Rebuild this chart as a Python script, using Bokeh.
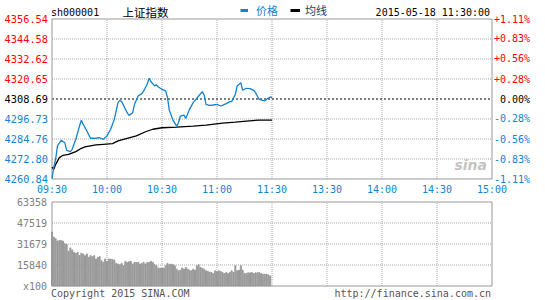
from bokeh.plotting import figure
from bokeh.models import Range1d, ColumnDataSource, Legend, LegendItem
from bokeh.core.properties import value
from bokeh.embed import file_html
from bokeh.resources import INLINE

code = "sh000001"
name = "上证指数"
stamp = "2015-05-18 11:30:00"
series_names = ["价格", "均线"]
prev_close = 4308.69
price_ticks = [4260.84, 4272.80, 4284.76, 4296.73, 4308.69, 4320.65, 4332.62, 4344.58, 4356.54]
pct_labels = ["-1.11%", "-0.83%", "-0.56%", "-0.28%", "0.00%", "+0.28%", "+0.56%", "+0.83%", "+1.11%"]
time_ticks = [0, 30, 60, 90, 120, 150, 180, 210, 240]
time_labels = ["09:30", "10:00", "10:30", "11:00", "11:30", "13:30", "14:00", "14:30", "15:00"]

# minutes after 09:30
price_min = [0, 1, 2, 3, 5, 7, 8, 10, 11, 13, 15, 16, 17, 19, 21, 23, 26, 28, 30, 32, 34, 36, 37, 38,
             41, 42, 44, 45, 47, 49, 50, 52, 53, 54, 56, 57, 58, 60, 62, 63, 64, 66, 68, 69, 70, 72,
             73, 75, 77, 78, 80, 82, 83, 84, 86, 88, 90, 92, 93, 95, 97, 98, 100, 101, 103, 104, 106,
             108, 110, 111, 112, 113, 115, 116, 117, 119, 120]
price_val = [4261.0, 4268.0, 4272.8, 4280.6, 4284.0, 4282.5, 4278.0, 4277.2, 4278.6, 4284.6, 4292.5,
             4296.0, 4293.6, 4289.6, 4285.2, 4285.2, 4285.5, 4284.6, 4286.6, 4290.6, 4296.6, 4306.5,
             4307.9, 4307.1, 4300.5, 4298.9, 4300.5, 4305.5, 4310.5, 4311.9, 4313.5, 4317.8, 4321.1,
             4319.0, 4316.5, 4317.1, 4315.9, 4314.5, 4313.5, 4309.5, 4301.9, 4296.0, 4292.5, 4294.5,
             4298.5, 4299.1, 4297.1, 4302.5, 4306.5, 4307.9, 4310.5, 4313.1, 4311.1, 4305.5, 4304.9,
             4305.1, 4305.5, 4304.5, 4304.9, 4305.9, 4307.1, 4307.1, 4311.5, 4316.5, 4318.4, 4313.9,
             4315.1, 4314.9, 4313.9, 4312.5, 4310.5, 4308.5, 4307.9, 4307.5, 4308.5, 4309.9, 4309.5]
avg_min = [0, 1, 2, 4, 6, 9, 13, 16, 18, 24, 28, 33, 36, 41, 46, 51, 55, 60, 68, 77, 84, 93, 100, 106, 113, 120]
avg_val = [4268.0, 4266.6, 4269.6, 4273.6, 4275.0, 4275.6, 4277.2, 4279.2, 4280.0, 4281.2, 4281.6,
           4282.0, 4283.6, 4285.2, 4286.6, 4289.1, 4290.6, 4291.5, 4291.9, 4292.5, 4293.1, 4294.3,
           4294.9, 4295.5, 4296.1, 4296.1]

volume = [40700, 36900, 35600, 33850, 34350, 34350, 33850, 31800, 31300,
          26200, 28750, 27230, 25450, 24680, 25450, 22900, 24680, 24170, 22900,
          24170, 21630, 22900, 22140, 22900, 20360, 21630, 22140, 19080, 17810,
          20360, 18580, 20360, 20360, 19850, 19590, 17050, 16540, 16030, 17050,
          15270, 18580, 17810, 18320, 18580, 16540, 17810, 17810, 17810, 16540,
          17050, 17810, 16540, 17810, 17810, 18580, 17810, 16030, 15270,
          13490, 13490, 13490, 13490, 15270, 17050, 16030, 16540, 16030, 15270,
          12720, 11450, 11960, 13490, 12720, 14000, 12720, 11960, 11450, 12720,
          11960, 15270, 16030, 14000, 13490, 12720, 11450, 10940, 10430, 10180,
          9410, 11450, 10940, 11450, 10940, 10180, 9410, 10180, 9410, 10180,
          11450, 10180, 15270, 11450, 11960, 15270, 11960, 9410, 9410, 9920,
          9920, 10180, 9410, 9920, 9920, 10180, 9410, 8910, 8910,
          8910, 8400, 7630]
vol_ticks = [0, 15840, 31679, 47519, 63358]
vol_labels = ["x100", "15840", "31679", "47519", "63358"]
copyright_text = "Copyright 2015 SINA.COM"
url_text = "http://finance.sina.com.cn"
watermark = "sina"

# ---------------- layout constants (canvas pixels) ----------------
W, H = 545, 300
PLOT_L, PLOT_R = 51.5, 491.5
MAIN_T, MAIN_B = 18.5, 178.5
VOL_T, VOL_B = 201.5, 285.5

BLUE = "#1282d2"
RED = "#ff0000"
GRID = "#a8a8a8"
FRAME = "#999999"
MONO = "DejaVu Sans Mono"
CJK = "Noto Sans CJK SC"
NAN = float("nan")

t0, t1 = time_ticks[0], time_ticks[-1]
p_lo, p_hi = price_ticks[0], price_ticks[-1]
v_hi = vol_ticks[-1]
xpp = (t1 - t0) / (PLOT_R - PLOT_L)
ypp = (p_hi - p_lo) / (MAIN_B - MAIN_T)
vpp = v_hi / (VOL_B - VOL_T)

p = figure(width=W, height=H,
           x_range=Range1d(t0 - PLOT_L * xpp, t1 + (W - PLOT_R) * xpp),
           y_range=Range1d(p_lo - (H - MAIN_B) * ypp, p_hi + MAIN_T * ypp),
           output_backend="svg", toolbar_location=None,
           x_axis_location=None, y_axis_location=None,
           min_border=0, min_border_left=0, min_border_right=0, min_border_top=0, min_border_bottom=0)
p.extra_y_ranges = {"vol": Range1d(-(H - VOL_B) * vpp, v_hi + VOL_T * vpp)}
p.outline_line_color = None
p.xgrid.visible = False
p.ygrid.visible = False
p.background_fill_color = "white"
p.border_fill_color = "white"

# ---- main panel grid ----
inner_t = time_ticks[1:-1]
inner_p = [t for t in price_ticks[1:-1] if t != prev_close]
p.segment(x0=inner_t, x1=inner_t, y0=[p_lo] * len(inner_t), y1=[p_hi] * len(inner_t),
          line_color=GRID, line_dash="1 1", line_width=1)
p.segment(x0=[t0] * len(inner_p), x1=[t1] * len(inner_p), y0=inner_p, y1=inner_p,
          line_color=GRID, line_dash="1 1", line_width=1)
p.segment(x0=[t0], x1=[t1], y0=[prev_close], y1=[prev_close],
          line_color="black", line_dash="2 2", line_width=1)
p.quad(left=[t0], right=[t1], bottom=[p_lo], top=[p_hi], fill_color=None, line_color=FRAME)

# ---- volume panel grid ----
inner_v = vol_ticks[1:-1]
p.segment(x0=inner_t, x1=inner_t, y0=[0] * len(inner_t), y1=[v_hi] * len(inner_t),
          line_color=GRID, line_dash="1 1", line_width=1, y_range_name="vol")
p.segment(x0=[t0] * len(inner_v), x1=[t1] * len(inner_v), y0=inner_v, y1=inner_v,
          line_color=GRID, line_dash="1 1", line_width=1, y_range_name="vol")

p.vbar(x=list(range(len(volume))), top=volume, bottom=0, width=0.55, color="#999999",
       y_range_name="vol")
p.quad(left=[t0], right=[t1], bottom=[0], top=[v_hi], fill_color=None, line_color=FRAME,
       y_range_name="vol")

# ---- watermark ----
p.text(x=[t1], y=[p_lo], text=[watermark], x_offset=-5, y_offset=-14, text_align="right",
       text_baseline="middle", text_font=value("DejaVu Sans"), text_font_style="bold italic",
       text_font_size="14px", text_color="#c4c4c4")

# ---- series ----
p.line(avg_min, avg_val, line_color="black", line_width=1.3)
p.line(price_min, price_val, line_color=BLUE, line_width=1.3)

# ---- tick labels ----
lcolors = [RED if t > prev_close + 1e-6 else ("black" if abs(t - prev_close) < 1e-6 else BLUE)
           for t in price_ticks]
src_l = ColumnDataSource(dict(x=[t0] * len(price_ticks), y=price_ticks,
                              text=["%.2f" % t for t in price_ticks], color=lcolors))
p.text(x="x", y="y", text="text", source=src_l, x_offset=-4, text_align="right",
       text_baseline="middle", text_color="color", text_font=value(MONO),
       text_font_size="10.3px")
src_r = ColumnDataSource(dict(x=[t1] * len(price_ticks), y=price_ticks, text=pct_labels,
                              color=lcolors))
p.text(x="x", y="y", text="text", source=src_r, x_offset=38, text_align="right",
       text_baseline="middle", text_color="color", text_font=value(MONO),
       text_font_size="10px")
p.text(x=time_ticks, y=[p_lo] * len(time_ticks), text=time_labels, y_offset=10,
       text_align="center", text_baseline="middle", text_color=BLUE,
       text_font=value(MONO), text_font_size="10px")
p.text(x=[t0] * len(vol_ticks), y=vol_ticks, text=vol_labels, x_offset=-5,
       text_align="right", text_baseline="middle", text_color="#808080",
       text_font=value(MONO), text_font_size="10px", y_range_name="vol")

# ---- header / footer texts ----
p.text(x=[t0], y=[p_hi], text=[code], x_offset=-1, y_offset=-7, text_baseline="middle",
       text_font=value(MONO), text_font_size="10px", text_color="black")
p.text(x=[t0], y=[p_hi], text=[name], x_offset=70.5, y_offset=-7, text_baseline="middle",
       text_font=value(CJK), text_font_size="11.5px", text_color="black")
p.text(x=[t1], y=[p_hi], text=[stamp], x_offset=-2, y_offset=-7, text_align="right",
       text_baseline="middle", text_font=value(MONO), text_font_size="10px",
       text_color="black")
p.text(x=[t0], y=[0], text=[copyright_text], x_offset=-1, y_offset=7, text_baseline="middle",
       text_font=value(MONO), text_font_size="10px", text_color="#555555",
       y_range_name="vol")
p.text(x=[t1], y=[0], text=[url_text], x_offset=-1, y_offset=7, text_align="right",
       text_baseline="middle", text_font=value(MONO), text_font_size="10px",
       text_color="#555555", y_range_name="vol")

# ---- legend (glyph-only renderers: NaN data, never drawn in the plot) ----
r_leg1 = p.line(x=[NAN], y=[NAN], line_color=BLUE, line_width=3)
r_leg2 = p.line(x=[NAN], y=[NAN], line_color="black", line_width=3)
leg1 = Legend(items=[LegendItem(label=series_names[0], renderers=[r_leg1])],
              location=(240, H - 18), glyph_width=8, glyph_height=12, label_height=12,
              label_standoff=8, padding=0, margin=0, border_line_color=None,
              background_fill_alpha=0, label_text_font=CJK, label_text_font_size="11px",
              label_text_color=BLUE)
leg2 = Legend(items=[LegendItem(label=series_names[1], renderers=[r_leg2])],
              location=(290, H - 18), glyph_width=10, glyph_height=12, label_height=12,
              label_standoff=5, padding=0, margin=0, border_line_color=None,
              background_fill_alpha=0, label_text_font=CJK, label_text_font_size="11px",
              label_text_color="#1c3c6c")
p.add_layout(leg1)
p.add_layout(leg2)

open("out.html", "w").write(file_html(p, INLINE))
